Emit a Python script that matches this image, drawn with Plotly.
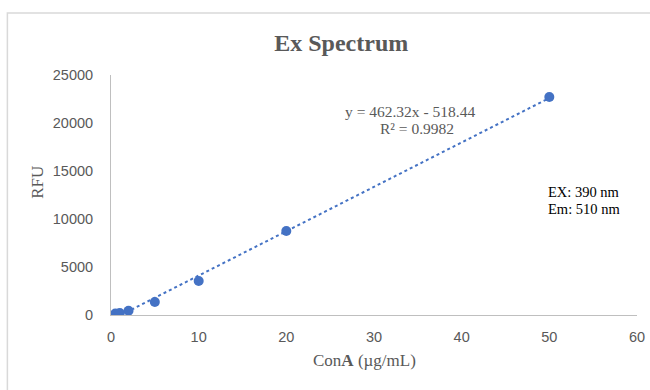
import plotly.graph_objects as go

# Calibration data: ConA concentration vs fluorescence
conc = [0.5, 1, 2, 5, 10, 20, 50]
rfu = [150, 200, 450, 1350, 3550, 8750, 22700]

# Linear trendline coefficients
slope = 462.32
intercept = -518.44
r_squared = 0.9982

x_ticks = [0, 10, 20, 30, 40, 50, 60]
y_ticks = [0, 5000, 10000, 15000, 20000, 25000]

trend_x = [min(conc), max(conc)]
trend_y = [slope * v + intercept for v in trend_x]

blue = "#4472C4"
gray = "#595959"
axis_gray = "#BFBFBF"
tick_font = dict(family="Liberation Sans, Arial, sans-serif", size=14.5, color=gray)
serif = "Liberation Serif, Times New Roman, serif"

fig = go.Figure()
fig.add_trace(go.Scatter(
    x=trend_x, y=trend_y, mode="lines",
    line=dict(color=blue, width=2, dash="dot"),
    hoverinfo="skip", showlegend=False,
))
fig.add_trace(go.Scatter(
    x=conc, y=rfu, mode="markers",
    marker=dict(color=blue, size=10),
    showlegend=False,
))

fig.update_layout(
    width=650, height=390,
    margin=dict(l=111, r=13, t=75, b=75, autoexpand=False),
    paper_bgcolor="white", plot_bgcolor="white",
    title=dict(text="<b>Ex Spectrum</b>", x=0.525, xanchor="center", y=0.892, yanchor="middle",
               font=dict(family=serif, size=24, color=gray)),
    xaxis=dict(range=[0, 60], tickvals=x_ticks, ticktext=[str(v) for v in x_ticks],
               showgrid=False, zeroline=False,
               showline=True, linecolor=axis_gray, linewidth=1, ticks="",
               tickfont=tick_font, ticklabelstandoff=9),
    yaxis=dict(range=[0, 25000], tickvals=y_ticks, ticktext=[str(v) for v in y_ticks],
               showgrid=False, zeroline=False,
               showline=True, linecolor=axis_gray, linewidth=1, ticks="",
               tickfont=tick_font, ticklabelstandoff=14),
    shapes=[dict(type="rect", xref="paper", yref="paper",
                 x0=-0.197, x1=1.1, y0=-0.4, y1=1.258,
                 line=dict(color="#D9D9D9", width=1.5))],
)

# Axis titles
fig.add_annotation(
    x=0.481, y=-0.1875, xref="paper", yref="paper", xanchor="center", yanchor="middle",
    text="Con<b>A</b> (µg/mL)", showarrow=False,
    font=dict(family=serif, size=17, color=gray),
)
fig.add_annotation(
    x=-0.141, y=0.554, xref="paper", yref="paper", xanchor="center", yanchor="middle",
    text="RFU", textangle=-90, showarrow=False,
    font=dict(family=serif, size=17, color=gray),
)

# Trendline equation and fit quality
fig.add_annotation(
    x=0.568, y=0.846, xref="paper", yref="paper", xanchor="center", yanchor="middle",
    text=f"y = {slope}x - {abs(intercept)}", showarrow=False,
    font=dict(family=serif, size=15.5, color=gray),
)
fig.add_annotation(
    x=0.582, y=0.778, xref="paper", yref="paper", xanchor="center", yanchor="middle",
    text=f"R² = {r_squared}", showarrow=False,
    font=dict(family=serif, size=15.5, color=gray),
)

# Excitation / emission wavelengths
fig.add_annotation(
    x=0.827, y=0.5125, xref="paper", yref="paper", xanchor="left", yanchor="middle",
    text="EX: 390 nm", showarrow=False,
    font=dict(family=serif, size=14.5, color="black"),
)
fig.add_annotation(
    x=0.827, y=0.4417, xref="paper", yref="paper", xanchor="left", yanchor="middle",
    text="Em: 510 nm", showarrow=False,
    font=dict(family=serif, size=14.5, color="black"),
)

fig.write_html("out.html")
